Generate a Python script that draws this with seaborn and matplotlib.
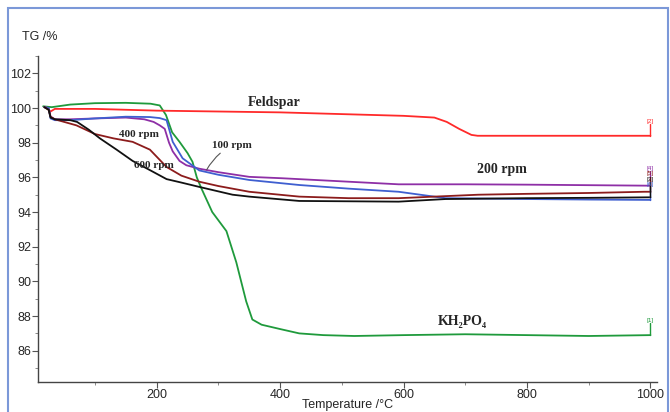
import pandas as pd
import numpy as np
import matplotlib.pyplot as plt
import seaborn as sns
from matplotlib.patches import Rectangle
from matplotlib.ticker import MultipleLocator

# -------------------------------------------
# TG curves (temperature in C, TG in %)
# -------------------------------------------
t_kh2po4 = [16, 30, 60, 100, 150, 190, 205, 215, 225, 237, 250, 258, 265, 272, 290, 313, 329,
            345, 355, 370, 400, 431, 470, 520, 600, 700, 800, 900, 1000]
tg_kh2po4 = [100.1, 100.05, 100.2, 100.28, 100.3, 100.25, 100.15, 99.6, 98.6, 98.05, 97.4, 96.9, 96.0,
             95.4, 94.0, 92.9, 91.1, 88.85, 87.8, 87.5, 87.25, 87.0, 86.9, 86.85, 86.9, 86.95, 86.9,
             86.85, 86.9]

t_feldspar = [20, 28, 35, 100, 200, 300, 400, 500, 600, 650, 670, 690, 710, 720, 800, 900, 1000]
tg_feldspar = [100.05, 99.8, 99.95, 99.95, 99.85, 99.8, 99.75, 99.65, 99.55, 99.45, 99.2, 98.8,
               98.45, 98.4, 98.4, 98.4, 98.4]

t_100 = [18, 25, 28, 35, 60, 100, 150, 180, 195, 205, 213, 220, 226, 237, 248, 269, 300, 350,
         403, 511, 592, 700, 800, 900, 1000]
tg_100 = [100.05, 100.0, 99.5, 99.35, 99.35, 99.4, 99.45, 99.35, 99.2, 99.0, 98.8, 98.0, 97.5,
          96.95, 96.7, 96.5, 96.3, 96.03, 95.95, 95.75, 95.6, 95.6, 95.58, 95.55, 95.52]

t_200 = [18, 25, 28, 35, 60, 100, 150, 189, 205, 216, 226, 242, 269, 300, 350, 431, 511, 592,
         668, 800, 900, 1000]
tg_200 = [100.05, 100.0, 99.4, 99.3, 99.3, 99.4, 99.5, 99.48, 99.42, 99.3, 98.05, 97.1, 96.4,
          96.15, 95.85, 95.56, 95.35, 95.17, 94.8, 94.75, 94.72, 94.7]

t_400 = [18, 25, 28, 35, 50, 70, 100, 130, 161, 189, 216, 240, 269, 300, 350, 431, 511, 592,
         721, 800, 900, 990, 1000]
tg_400 = [100.05, 99.9, 99.5, 99.35, 99.2, 99.0, 98.5, 98.25, 98.05, 97.6, 96.6, 96.1, 95.75,
          95.5, 95.17, 94.89, 94.8, 94.8, 95.0, 95.05, 95.1, 95.17, 95.17]

t_600 = [18, 25, 28, 35, 60, 71, 90, 108, 135, 161, 190, 216, 240, 269, 323, 350, 431, 592, 668,
         800, 900, 1000]
tg_600 = [100.05, 99.9, 99.45, 99.35, 99.3, 99.2, 98.75, 98.25, 97.6, 96.95, 96.4, 95.9, 95.7,
          95.45, 95.0, 94.89, 94.64, 94.6, 94.75, 94.8, 94.82, 94.85]

series_names = ["KH2PO4", "Feldspar", "100 rpm", "200 rpm", "400 rpm", "600 rpm"]
series_t = [t_kh2po4, t_feldspar, t_100, t_200, t_400, t_600]
series_tg = [tg_kh2po4, tg_feldspar, tg_100, tg_200, tg_400, tg_600]
end_tags = ["[1]", "[2]", "[4]", "[6]", "[5]", "[3]"]

palette = {"KH2PO4": "#1f9a3c", "Feldspar": "#ff2a2a", "100 rpm": "#8e2fa6",
           "200 rpm": "#3f5fd0", "400 rpm": "#8c1c1c", "600 rpm": "#111111"}

df = pd.concat([pd.DataFrame({"temp": t, "tg": v, "sample": n})
                for n, t, v in zip(series_names, series_t, series_tg)], ignore_index=True)

# -------------------------------------------
# Plot
# -------------------------------------------
sns.set_style("ticks")
plt.rcParams['font.family'] = ['Liberation Sans', 'DejaVu Sans']

fig = plt.figure(figsize=(6.7, 4.12), dpi=100)
ax = fig.add_axes([0.057, 0.073, 0.923, 0.791])

sns.lineplot(data=df, x="temp", y="tg", hue="sample", palette=palette, units="sample",
             estimator=None, sort=False, linewidth=1.3, legend=False, ax=ax)

ax.set_xlim(8, 1010)
ax.set_ylim(84.2, 103)
ax.xaxis.set_major_locator(MultipleLocator(200))
ax.xaxis.set_minor_locator(MultipleLocator(100))
ax.yaxis.set_minor_locator(MultipleLocator(1))
ax.set_yticks([86, 88, 90, 92, 94, 96, 98, 100, 102])
ax.tick_params(which='major', length=4, width=0.8, color='#555555', labelsize=9, pad=1)
ax.tick_params(which='minor', length=2, width=0.6, color='#777777')
sns.despine(ax=ax)
for s in ["left", "bottom"]:
    ax.spines[s].set_color('#444444')
    ax.spines[s].set_linewidth(1.0)

ax.set_xlabel("Temperature /\u00b0C", fontsize=9, labelpad=-1)
ax.set_ylabel("")
fig.text(0.033, 0.91, "TG /%", fontsize=9, ha='left', va='center')

# end markers at 1000 C
tag_y = {"[1]": 87.75, "[2]": 99.25, "[4]": 96.5, "[5]": 96.2, "[3]": 95.9, "[6]": 95.6}
for n, t, v, tag in zip(series_names, series_t, series_tg, end_tags):
    ax.plot([t[-1], t[-1]], [v[-1], tag_y[tag] - 0.15], color=palette[n], lw=1.0)
    ax.text(t[-1], tag_y[tag], tag, color=palette[n], fontsize=4.5, ha='center', va='center')

# sample labels
serif = ['Liberation Serif', 'DejaVu Serif']
ax.text(390, 100.1, "Feldspar", family=serif, fontweight='bold', fontsize=10, ha='center')
ax.text(760, 96.25, "200 rpm", family=serif, fontweight='bold', fontsize=10, ha='center')
ax.text(172, 98.35, "400 rpm", family=serif, fontweight='bold', fontsize=8, ha='center')
ax.text(195, 96.55, "600 rpm", family=serif, fontweight='bold', fontsize=8, ha='center')
ax.text(695, 87.5, "KH\u2082PO\u2084", family=serif, fontweight='bold', fontsize=10, ha='center')
ax.annotate("100 rpm", xy=(281, 96.44), xytext=(322, 97.7), family=serif, fontweight='bold',
            fontsize=8, ha='center',
            arrowprops=dict(arrowstyle='-', color='#555555', lw=0.8,
                            connectionstyle="arc3,rad=0.15", shrinkA=0, shrinkB=0))

# outer frame
fig.patches.append(Rectangle((0.012, -0.05), 0.985, 1.03, transform=fig.transFigure,
                             fill=False, edgecolor='#7b98d8', lw=1.5))

plt.savefig("out.png", dpi=100)
